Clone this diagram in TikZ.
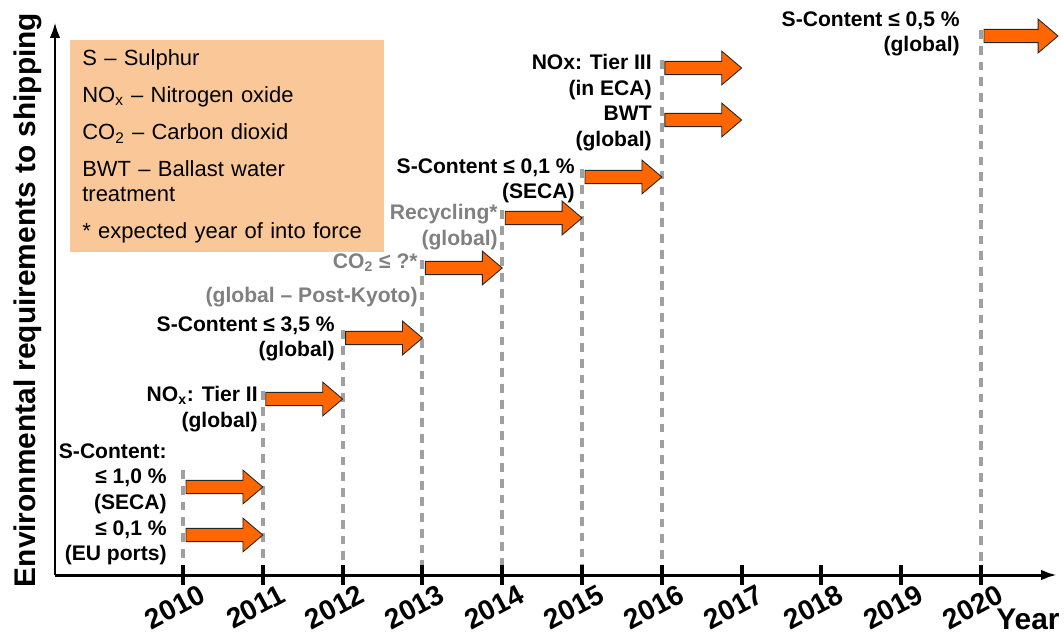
\documentclass[tikz,border=0pt]{standalone}
\usepackage{fontspec}
\setmainfont{Liberation Sans}
\usetikzlibrary{calc,arrows.meta}
\definecolor{legendfill}{RGB}{250,200,152}
\definecolor{arroworange}{RGB}{255,102,0}
\definecolor{gridgray}{RGB}{160,160,160}
\definecolor{labelgray}{RGB}{128,128,128}
\tikzset{
  axisline/.style={line width=1.7pt,-{Latex[length=9pt,width=6pt]}},
  yeartick/.style={line width=2.2pt},
  yearline/.style={gridgray,line width=2.3pt,dash pattern=on 5pt off 4pt},
  orangearrow/.style={fill=arroworange,draw=black!85,line width=0.5pt},
  reqlabel/.style={align=right,anchor=north east,inner sep=0pt,font=\fontsize{12}{14.6}\selectfont\bfseries},
  greylabel/.style={reqlabel,text=labelgray},
  yearlabel/.style={rotate=28,anchor=north east,inner sep=0pt,font=\fontsize{16}{19}\selectfont\bfseries},
  legendbox/.style={fill=legendfill,draw=none,anchor=north west,align=left,text width=5.8cm,inner xsep=0.24cm,minimum height=4.24cm,font=\fontsize{12.5}{14.2}\selectfont}
}
% orange block arrow between two coordinates on one level
\newcommand{\blockarrow}[2]{
  \draw[orangearrow] let \p1=(#1), \p2=(#2) in
    (\x1,\y1+3.8pt) -- (\x2-11.3pt,\y1+3.8pt) -- (\x2-11.3pt,\y1+9.6pt) -- (\x2,\y1)
    -- (\x2-11.3pt,\y1-9.6pt) -- (\x2-11.3pt,\y1-3.8pt) -- (\x1,\y1-3.8pt) -- cycle;
}

\begin{document}
\begin{tikzpicture}[x=0.02cm,y=-0.02cm]
  \useasboundingbox (0,0) rectangle (1064,639);

  % Jahre auf der Achse
  \coordinate (origin) at (55,575);
  \foreach \yr [count=\i from 0] in {2010,...,2020}{
    \coordinate (t\yr) at (183+79.8*\i,575);
  }

  % gestrichelte Linien
  \foreach \yr/\top in {2010/470, 2011/391, 2012/330, 2013/260, 2014/210, 2015/169, 2016/60, 2020/30}{
    \draw[yearline] (t\yr) ++(0,\top-575) -- (t\yr);
  }

  % Achsen
  \draw[axisline] (origin) -- (55,22) coordinate (ytop);
  \draw[axisline] (origin) -- (1057,575) coordinate (xend);
  \foreach \yr in {2010,...,2020}{
    \draw[yeartick] (t\yr) ++(0,-10) -- ++(0,20);
    \node[yearlabel] (l\yr) at ($(t\yr)+(15,8)$) {\yr};
  }
  \node[font=\fontsize{17}{20}\selectfont\bfseries] (xlabel) at (1028,619) {Year};
  \node[font=\fontsize{17}{20}\selectfont\bfseries,rotate=90] (ylabel) at (28,300) {Environmental requirements to shipping};

  % Legende
  \node[legendbox] (legend) at (70,40) {%
    S -- Sulphur\\[7pt]
    NO\textsubscript{x} -- Nitrogen oxide\\[7pt]
    CO\textsubscript{2} -- Carbon dioxid\\[7pt]
    BWT -- Ballast water\\
    treatment\\[7pt]
    * expected year of into force};

  % Anforderungen
  \node[reqlabel] (lab-scontent) at (167,443) {S-Content:\\ ≤ 1,0 \%\\ (SECA)\\ ≤ 0,1 \%\\ (EU ports)};
  \node[reqlabel] (lab-tierII) at (258,386) {NO\textsubscript{x}: Tier II\\ (global)};
  \node[reqlabel] (lab-sglobal) at (335,316) {S-Content ≤ 3,5 \%\\ (global)};
  \node[greylabel] (lab-co) at (418,253) {CO\textsubscript{2} ≤ ?*\\[5pt] (global -- Post-Kyoto)};
  \node[greylabel] (lab-recycling) at (498,204) {Recycling*\\ (global)};
  \node[reqlabel] (lab-secaB) at (575,158) {S-Content ≤ 0,1 \%\\ (SECA)};
  \node[reqlabel] (lab-tierIII) at (652,54) {NOx: Tier III\\ (in ECA)\\ BWT\\ (global)};
  \node[reqlabel] (lab-sfinal) at (960,11) {S-Content ≤ 0,5 \%\\ (global)};

  % Pfeile
  \foreach \name/\from/\to/\ypos in {seca/2010/2011/487, euports/2010/2011/535, tierII/2011/2012/399,
      sglobal/2012/2013/338, co/2013/2014/268, recycling/2014/2015/218, secaB/2015/2016/177,
      tierIII/2016/2017/68, bwt/2016/2017/120}{
    \path (t\from) ++(3,\ypos-575) coordinate (\name-s) (t\to) ++(0,\ypos-575) coordinate (\name-e);
    \blockarrow{\name-s}{\name-e}
  }
  \path (t2020) ++(3,-539) coordinate (sfinal-s);
  \coordinate (sfinal-e) at (1058,36);
  \blockarrow{sfinal-s}{sfinal-e}

\end{tikzpicture}
\end{document}
